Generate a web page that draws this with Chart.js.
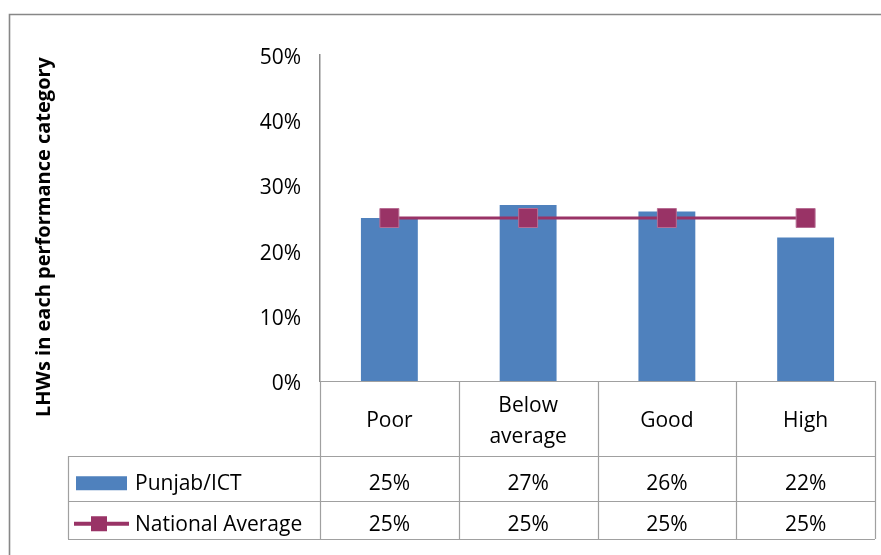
<!DOCTYPE html>
<html>
<head>
<meta charset="utf-8">
<script src="https://cdn.jsdelivr.net/npm/chart.js@4"></script>
<style>
    html, body { margin: 0; padding: 0; background: #fff; }
    #wrap { width: 881px; height: 555px; }
</style>
</head>
<body>
<div id="wrap"><canvas id="lhwChart" width="881" height="555"></canvas></div>
<script>
const categories = ["Poor", ["Below", "average"], "Good", "High"]
const punjabICT = [25, 27, 26, 22]
const nationalAverage = [25, 25, 25, 25]
const seriesNames = ["Punjab/ICT", "National Average"]
const yTickValues = [0, 10, 20, 30, 40, 50]
const axisTitle = "LHWs in each performance category"

const barColor = "#4f81bd"
const lineColor = "#993366"
const gridGray = "#a0a0a0"
const fontFamily = "'Open Sans', sans-serif"

// data table + outer frame, drawn under the plot like the Excel data table
const dataTable = {
    id: "dataTable",
    afterDraw(chart) {
        const ctx = chart.ctx
        const x = chart.scales.x
        const area = chart.chartArea
        const step = x.getPixelForValue(1) - x.getPixelForValue(0)
        const edges = []
        for (let i = 0; i <= categories.length; i++) {
            edges.push(x.getPixelForValue(i) - step / 2)
        }
        const tableLeft = 68
        const catBottom = area.bottom + 75
        const rowMid = catBottom + 44.5
        const tableBottom = rowMid + 38.5
        const right = edges[edges.length - 1]

        ctx.save()
        // frame
        ctx.strokeStyle = "#878787"
        ctx.lineWidth = 1.6
        ctx.beginPath()
        ctx.moveTo(9.5, chart.height)
        ctx.lineTo(9.5, 14.5)
        ctx.lineTo(chart.width, 14.5)
        ctx.stroke()

        // table grid
        ctx.strokeStyle = gridGray
        ctx.lineWidth = 1.2
        ctx.beginPath()
        ctx.moveTo(edges[0], area.bottom + 0.5)
        ctx.lineTo(right, area.bottom + 0.5)
        ;[catBottom, rowMid, tableBottom].forEach(y => {
            ctx.moveTo(tableLeft, Math.round(y) + 0.5)
            ctx.lineTo(right, Math.round(y) + 0.5)
        })
        edges.forEach(ex => {
            ctx.moveTo(Math.round(ex) + 0.5, area.bottom)
            ctx.lineTo(Math.round(ex) + 0.5, tableBottom)
        })
        ctx.moveTo(tableLeft + 0.5, catBottom)
        ctx.lineTo(tableLeft + 0.5, tableBottom)
        ctx.stroke()

        // category labels
        ctx.fillStyle = "#000"
        ctx.font = `21px ${fontFamily}`
        ctx.textAlign = "center"
        ctx.textBaseline = "middle"
        const catMid = (area.bottom + catBottom) / 2 + 3
        categories.forEach((label, i) => {
            const lines = Array.isArray(label) ? label : [label]
            const cx = x.getPixelForValue(i)
            lines.forEach((ln, j) => {
                ctx.fillText(ln, cx, catMid + (j - (lines.length - 1) / 2) * 31)
            })
        })

        // values
        const row1 = (catBottom + rowMid) / 2 + 6
        const row2 = (rowMid + tableBottom) / 2 + 5
        punjabICT.forEach((v, i) => ctx.fillText(v + "%", x.getPixelForValue(i), row1))
        nationalAverage.forEach((v, i) => ctx.fillText(v + "%", x.getPixelForValue(i), row2))

        // legend keys
        ctx.fillStyle = barColor
        ctx.fillRect(76, row1 - 8, 51, 14)
        ctx.strokeStyle = lineColor
        ctx.lineWidth = 4
        ctx.beginPath()
        ctx.moveTo(74, row2 - 1)
        ctx.lineTo(129, row2 - 1)
        ctx.stroke()
        ctx.fillStyle = lineColor
        ctx.fillRect(91, row2 - 8.5, 16, 15)

        ctx.fillStyle = "#000"
        ctx.textAlign = "left"
        ctx.fillText(seriesNames[0], 135, row1)
        ctx.fillText(seriesNames[1], 135, row2)

        // y axis title
        ctx.font = `bold 20px ${fontFamily}`
        ctx.textAlign = "center"
        ctx.translate(44, 237)
        ctx.rotate(-Math.PI / 2)
        ctx.fillText(axisTitle, 0, 0)
        ctx.restore()
    }
}

new Chart(document.getElementById("lhwChart"), {
    data: {
        labels: categories,
        datasets: [{
            type: "line",
            label: seriesNames[1],
            data: nationalAverage,
            borderColor: lineColor,
            borderWidth: 3,
            backgroundColor: lineColor,
            pointStyle: "rect",
            pointRadius: 13.4,
            pointBackgroundColor: lineColor,
            pointBorderColor: "#b76d94",
            pointBorderWidth: 1,
            order: 0
        }, {
            type: "bar",
            label: seriesNames[0],
            data: punjabICT,
            backgroundColor: barColor,
            barPercentage: 0.41,
            categoryPercentage: 1,
            order: 1
        }]
    },
    options: {
        responsive: false,
        animation: false,
        layout: {
            autoPadding: false,
            padding: { top: 55, right: 6, bottom: 174, left: 0 }
        },
        plugins: {
            legend: { display: false },
            tooltip: { enabled: false }
        },
        scales: {
            x: {
                display: false
            },
            y: {
                min: 0,
                max: 50,
                afterFit(scale) {
                    scale.width = 320
                },
                afterBuildTicks(scale) {
                    scale.ticks = yTickValues.map(v => ({ value: v }))
                },
                grid: { display: false, drawTicks: false },
                border: { display: true, color: "#8c8c8c", width: 1.5 },
                ticks: {
                    padding: 19,
                    labelOffset: 3,
                    color: "#000",
                    font: { family: fontFamily, size: 21 },
                    callback: v => v + "%"
                }
            }
        }
    },
    plugins: [dataTable]
})
</script>
</body>
</html>
